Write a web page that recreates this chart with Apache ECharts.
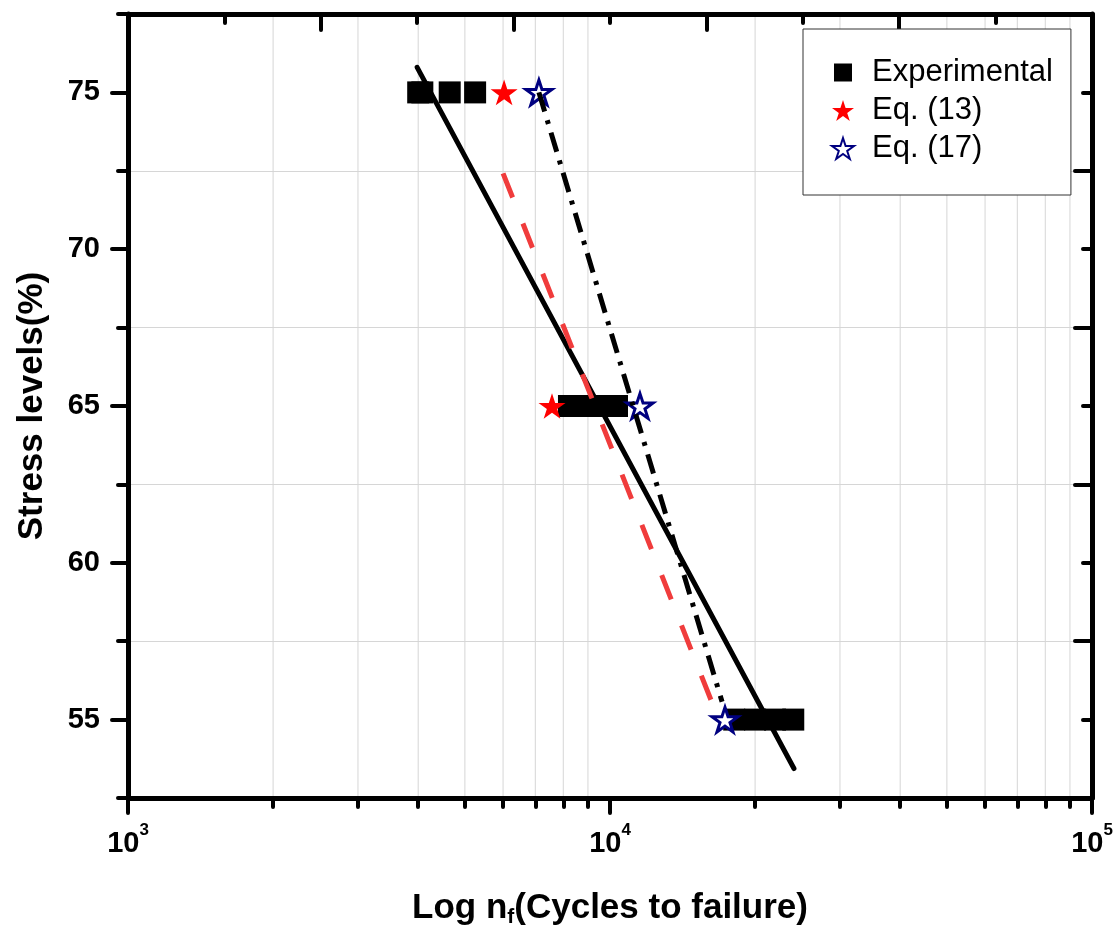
<!DOCTYPE html>
<html>
<head>
<meta charset="utf-8">
<script src="https://cdn.jsdelivr.net/npm/echarts@6/dist/echarts.min.js"></script>
<style>
  html, body { margin: 0; padding: 0; background: #fff; overflow: hidden; }
  #chart { width: 1118px; height: 927px; }
</style>
</head>
<body>
<div id="chart"></div>
<script>
// stress level (%) vs cycles to failure
const expData = [
  [4000, 75], [4080, 75], [4650, 75], [5250, 75],
  [8220, 65], [8870, 65], [9530, 65], [10340, 65],
  [18100, 55], [20000, 55], [22000, 55], [24000, 55]
];
const eq13Data = [[6030, 75], [7580, 65], [17320, 55]];
const eq17Data = [[7120, 75], [11540, 65], [17320, 55]];

// fitted lines (end points)
const fitExp = [[3980, 75.8], [24080, 53.44]];
const fitEq13 = [[6000, 72.42], [16280, 55.54]];
const fitEq17 = [[7120, 75], [17080, 55.57]];

const xMinorTicks = [2000, 3000, 4000, 5000, 6000, 7000, 8000, 9000,
  20000, 30000, 40000, 50000, 60000, 70000, 80000, 90000];
const yMajorTicks = [55, 60, 65, 70, 75];
const yMinorTicks = [52.5, 57.5, 62.5, 67.5, 72.5, 77.5];

const FONT = 'Arial, "Liberation Sans", sans-serif';
const STAR = 'path://M50,0 L61.23,34.55 L97.55,34.55 L68.16,55.9 L79.39,90.45 L50,69.1 L20.61,90.45 L31.84,55.9 L2.45,34.55 L38.77,34.55 Z';
const AXIS_LINE = { lineStyle: { color: '#000', width: 5, cap: 'round' } };
const tickStyle = { color: '#000', width: 4, cap: 'round' };

const el = document.getElementById('chart');
const chart = echarts.init(el, null, { width: 1118, height: 927 });

const option = {
  backgroundColor: '#fff',
  animation: false,
  grid: { left: 128, top: 14, width: 964, height: 784, containLabel: false, outerBoundsMode: 'none' },
  legend: {
    orient: 'vertical',
    left: 803,
    top: 29,
    padding: [28, 18, 31, 27],
    itemGap: 7,
    itemWidth: 22,
    itemHeight: 22,
    backgroundColor: '#fff',
    borderColor: '#333',
    borderWidth: 1,
    textStyle: { fontFamily: FONT, fontSize: 31, color: '#000', lineHeight: 30, padding: [0, 0, 0, 13] },
    data: [
      { name: 'Experimental', icon: 'rect', itemStyle: { color: '#000', opacity: 1, borderColor: '#fff', borderWidth: 4 } },
      { name: 'Eq. (13)', icon: STAR, itemStyle: { opacity: 1 } },
      { name: 'Eq. (17)', icon: STAR, itemStyle: { opacity: 1 } }
    ]
  },
  xAxis: [
    {
      type: 'log', logBase: 10, min: 1000, max: 100000, position: 'bottom',
      axisLine: AXIS_LINE,
      axisTick: { length: 15, lineStyle: tickStyle },
      splitLine: { show: false },
      axisLabel: {
        margin: 24,
        formatter: v => '{b|10}{s|' + Math.round(Math.log10(v)) + '}',
        rich: {
          b: { fontFamily: FONT, fontSize: 29, fontWeight: 'bold', color: '#000', lineHeight: 43 },
          s: { fontFamily: FONT, fontSize: 17, fontWeight: 'bold', color: '#000', lineHeight: 17, verticalAlign: 'top' }
        }
      },
      name: '{t|Log n}{u|f}{t|(Cycles to failure)}',
      nameLocation: 'middle',
      nameGap: 90,
      nameTextStyle: {
        rich: {
          t: { fontFamily: FONT, fontSize: 35, fontWeight: 'bold', color: '#000', lineHeight: 40 },
          u: { fontFamily: FONT, fontSize: 21, fontWeight: 'bold', color: '#000', lineHeight: 14, verticalAlign: 'bottom' }
        }
      }
    },
    {
      type: 'value', min: 0, max: 5, interval: 1, position: 'top',
      axisLine: AXIS_LINE,
      axisTick: { inside: true, length: 16, lineStyle: tickStyle },
      minorTick: { show: true, splitNumber: 2, length: 9, lineStyle: tickStyle },
      axisLabel: { show: false },
      splitLine: { show: false }
    },
    {
      type: 'log', logBase: 10, min: 1000, max: 100000, position: 'bottom',
      axisLine: { show: false },
      axisTick: { length: 9, customValues: xMinorTicks, lineStyle: tickStyle },
      axisLabel: { show: false },
      splitLine: { show: false }
    }
  ],
  yAxis: [
    {
      type: 'value', min: 52.5, max: 77.5, interval: 2.5, position: 'left',
      axisLine: AXIS_LINE,
      axisTick: { length: 16, customValues: yMajorTicks, lineStyle: tickStyle },
      axisLabel: {
        customValues: yMajorTicks, margin: 28,
        fontFamily: FONT, fontSize: 29, fontWeight: 'bold', color: '#000'
      },
      splitLine: { show: false },
      name: 'Stress levels(%)',
      nameLocation: 'middle',
      nameGap: 78,
      nameTextStyle: { fontFamily: FONT, fontSize: 35, fontWeight: 'bold', color: '#000' }
    },
    {
      type: 'value', min: 52.5, max: 77.5, interval: 5, position: 'right',
      axisLine: AXIS_LINE,
      axisTick: { inside: true, length: 17, lineStyle: tickStyle },
      minorTick: { show: true, splitNumber: 2, length: 9, lineStyle: tickStyle },
      axisLabel: { show: false },
      splitLine: { show: true, lineStyle: { color: '#d6d6d6', width: 1 } }
    },
    {
      type: 'value', min: 52.5, max: 77.5, position: 'left',
      axisLine: { show: false },
      axisTick: { length: 10, customValues: yMinorTicks, lineStyle: tickStyle },
      axisLabel: { show: false },
      splitLine: { show: false }
    }
  ],
  series: [
    {
      name: 'grid-x',
      type: 'custom',
      silent: true,
      z: 0,
      data: xMinorTicks.map(v => [v, 52.5]),
      renderItem: (params, api) => {
        const a = api.coord([api.value(0), 52.5]);
        const b = api.coord([api.value(0), 77.5]);
        return {
          type: 'line',
          shape: { x1: a[0], y1: a[1], x2: b[0], y2: b[1] },
          style: { stroke: '#d6d6d6', lineWidth: 1 }
        };
      }
    },
    {
      name: 'Experimental',
      type: 'scatter',
      symbol: 'rect',
      symbolSize: 22,
      itemStyle: { color: '#000', opacity: 1 },
      data: expData
    },
    {
      name: 'Eq. (13)',
      type: 'scatter',
      symbol: STAR,
      symbolKeepAspect: true,
      symbolSize: 27,
      itemStyle: { color: '#ff0000', opacity: 1 },
      data: eq13Data
    },
    {
      name: 'Eq. (17)',
      type: 'scatter',
      symbol: STAR,
      symbolKeepAspect: true,
      symbolSize: 26,
      itemStyle: { color: '#fff', borderColor: '#000080', borderWidth: 3, opacity: 1 },
      data: eq17Data
    },
    {
      name: 'fit-exp',
      type: 'line',
      showSymbol: false,
      lineStyle: { color: '#000', width: 5, cap: 'round' },
      data: fitExp
    },
    {
      name: 'fit-13',
      type: 'line',
      showSymbol: false,
      lineStyle: { color: '#f03c3c', width: 5, type: [26, 28] },
      data: fitEq13
    },
    {
      name: 'fit-17',
      type: 'line',
      showSymbol: false,
      lineStyle: { color: '#000', width: 5, type: [20, 9, 4, 9] },
      data: fitEq17
    }
  ]
};

chart.setOption(option);
</script>
</body>
</html>
